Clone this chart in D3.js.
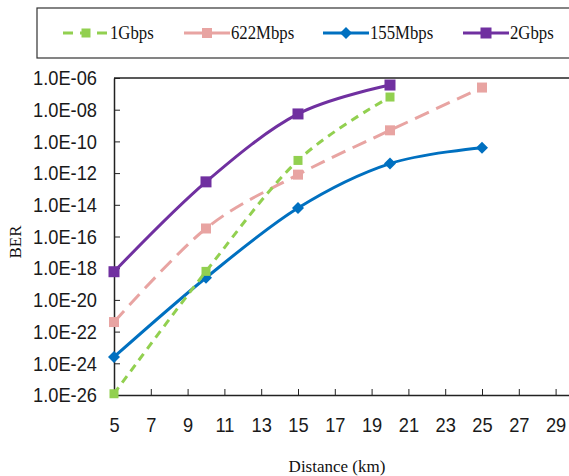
<!DOCTYPE html>
<html>
<head>
<meta charset="utf-8">
<script src="https://cdn.jsdelivr.net/npm/d3@7"></script>
<style>
  body { margin: 0; background: #fff; }
  svg { display: block; }
  .tick text { font-family: "Liberation Sans", Arial, sans-serif; font-size: 21px; fill: #1a1a1a; }
  .ttl { font-family: "Liberation Serif", "Times New Roman", serif; font-size: 17px; fill: #111; }
</style>
</head>
<body>
<div id="chart"></div>
<script>
// distances (km)
const distances = [5, 10, 15, 20, 25];
const xTicks = [5, 7, 9, 11, 13, 15, 17, 19, 21, 23, 25, 27, 29];
const yTicks = [1e-6, 1e-8, 1e-10, 1e-12, 1e-14, 1e-16, 1e-18, 1e-20, 1e-22, 1e-24, 1e-26];

// BER per bit rate
const ber1G   = [1.2e-26, 6.3e-19, 6.3e-12, 6.3e-8];
const ber622M = [4.0e-22, 3.2e-16, 8.0e-13, 5.0e-10, 2.5e-7];
const ber155M = [2.5e-24, 2.5e-19, 6.3e-15, 4.0e-12, 4.0e-11];
const ber2G   = [6.0e-19, 2.8e-13, 5.4e-9, 3.6e-7];

const seriesNames = ['1Gbps', '622Mbps', '155Mbps', '2Gbps'];

const series = [
    {name: seriesNames[0], values: ber1G, color: '#92d050', dash: '8,6', marker: 'square', size: 9},
    {name: seriesNames[1], values: ber622M, color: '#e8a4a2', dash: '15,8', marker: 'square', size: 10},
    {name: seriesNames[2], values: ber155M, color: '#0070c0', dash: null, marker: 'diamond', size: 8},
    {name: seriesNames[3], values: ber2G, color: '#7030a0', dash: null, marker: 'square', size: 11}
];

const W = 569, H = 476;
const margin = {left: 114, top: 78, right: 0, bottom: 81};
const svg = d3.select('#chart').append('svg')
    .attr('width', W)
    .attr('height', H);

// x domain runs past the right edge like the original crop
const x = d3.scaleLinear().domain([5, 30]).range([margin.left, margin.left + 25 * 18.4]);
const y = d3.scaleLog().domain([1e-26, 1e-6]).range([H - margin.bottom, margin.top]);

const fmt = v => {
    const e = Math.round(Math.log10(v));
    return '1.0E-' + String(-e).padStart(2, '0');
};

// squeeze text horizontally, the original font is tall and narrow
function squeeze(node, k) {
    const w = node.getComputedTextLength();
    d3.select(node)
        .attr('textLength', w * k)
        .attr('lengthAdjust', 'spacingAndGlyphs');
}
function narrow(sel) {
    sel.selectAll('.tick text').each(function() { squeeze(this, 0.87); });
}

// plot frame (top line)
svg.append('line')
    .attr('x1', margin.left).attr('x2', W)
    .attr('y1', margin.top).attr('y2', margin.top)
    .attr('stroke', '#222').attr('stroke-width', 1.5);

const gx = svg.append('g')
    .attr('transform', `translate(0,${H - margin.bottom})`)
    .call(d3.axisBottom(x).tickValues(xTicks).tickSizeInner(-6).tickSizeOuter(0).tickPadding(22).tickFormat(d3.format('d')));
gx.select('.domain').attr('stroke', '#222').attr('stroke-width', 1.5);
gx.selectAll('.tick line').attr('stroke', '#222');
narrow(gx);

const gy = svg.append('g')
    .attr('transform', `translate(${margin.left},0)`)
    .call(d3.axisLeft(y).tickValues(yTicks).tickSizeInner(-6).tickSizeOuter(0).tickPadding(17).tickFormat(fmt));
gy.select('.domain').attr('stroke', '#222').attr('stroke-width', 1.5);
gy.selectAll('.tick line').attr('stroke', '#222');
narrow(gy);

// axis titles
svg.append('text').attr('class', 'ttl')
    .attr('x', 337).attr('y', 472)
    .attr('text-anchor', 'middle')
    .text('Distance (km)');
svg.append('text').attr('class', 'ttl')
    .attr('transform', 'translate(21,242) rotate(-90)')
    .attr('text-anchor', 'middle')
    .text('BER');

const line = d3.line()
    .x((d, i) => x(distances[i]))
    .y(d => y(d))
    .curve(d3.curveCardinal.tension(0));

function drawMarker(g, s, cx, cy) {
    if (s.marker === 'diamond') {
        const r = s.size * 0.75;
        g.append('path')
            .attr('d', `M${cx},${cy - r}L${cx + r},${cy}L${cx},${cy + r}L${cx - r},${cy}Z`)
            .attr('fill', s.color);
    } else {
        g.append('rect')
            .attr('x', cx - s.size / 2).attr('y', cy - s.size / 2)
            .attr('width', s.size).attr('height', s.size)
            .attr('fill', s.color);
    }
}

// draw order: 155, 622, 1G, 2G
[2, 1, 0, 3].forEach(k => {
    const s = series[k];
    const g = svg.append('g');
    g.append('path')
        .datum(s.values)
        .attr('d', line)
        .attr('fill', 'none')
        .attr('stroke', s.color)
        .attr('stroke-width', 3)
        .attr('stroke-dasharray', s.dash);
    s.values.forEach((v, i) => drawMarker(g, s, x(distances[i]), y(v)));
});

// legend (right border runs off the picture)
svg.append('rect')
    .attr('x', 37).attr('y', 8)
    .attr('width', 560).attr('height', 50)
    .attr('fill', '#fff')
    .attr('stroke', '#333').attr('stroke-width', 1.2);

const legendX = [63, 184, 323, 463];
series.forEach((s, i) => {
    const lg = svg.append('g').attr('transform', `translate(${legendX[i]},33)`);
    lg.append('line')
        .attr('x1', 0).attr('x2', 46)
        .attr('y1', 0).attr('y2', 0)
        .attr('stroke', s.color)
        .attr('stroke-width', 3)
        .attr('stroke-dasharray', s.dash ? (i === 0 ? '10,7,10,7' : '18,10') : null);
    drawMarker(lg, s, 23, 0);
    lg.append('text').attr('class', 'ttl')
        .attr('x', 47).attr('y', 6)
        .style('font-size', '18px')
        .text(s.name)
        .each(function() { squeeze(this, 0.93); });
});
</script>
</body>
</html>
